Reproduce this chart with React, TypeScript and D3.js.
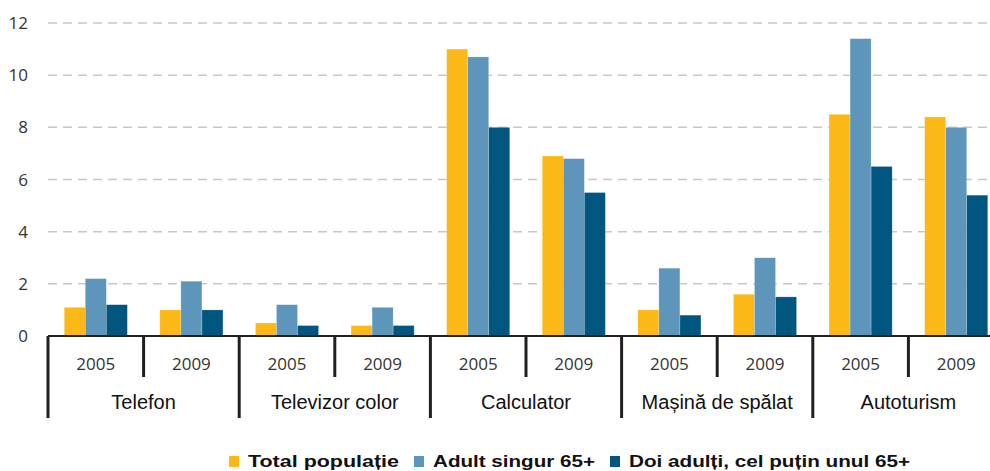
import React from "react";
import * as d3 from "d3";

const categories = ["Telefon", "Televizor color", "Calculator", "Mașină de spălat", "Autoturism"];
const years = ["2005", "2009"];
const seriesNames = ["Total populație", "Adult singur 65+", "Doi adulți, cel puțin unul 65+"];
// values per (category, year) in order: Telefon 2005, Telefon 2009, Televizor 2005, ...
const totalPopulatie = [1.1, 1.0, 0.5, 0.4, 11.0, 6.9, 1.0, 1.6, 8.5, 8.4];
const adultSingur = [2.2, 2.1, 1.2, 1.1, 10.7, 6.8, 2.6, 3.0, 11.4, 8.0];
const doiAdulti = [1.2, 1.0, 0.4, 0.4, 8.0, 5.5, 0.8, 1.5, 6.5, 5.4];
const yTicks = [0, 2, 4, 6, 8, 10, 12];

const colors = ["#FBB817", "#5E96BB", "#00567F"];

const W = 990;
const H = 471;
const left = 48;
const groupStep = 95.6;
const y0 = 336;
const yTop = 23;

export default function App() {
  const groups = categories.flatMap((c) => years.map((y) => `${c}|${y}`));
  const series = [totalPopulatie, adultSingur, doiAdulti];

  const x = d3
    .scaleBand<string>()
    .domain(groups)
    .range([left, left + groupStep * groups.length])
    .paddingInner(0.34)
    .paddingOuter(0.17);
  const xs = d3.scaleBand<number>().domain([0, 1, 2]).range([0, x.bandwidth()]);
  const y = d3.scaleLinear().domain([0, 12]).range([y0, yTop]);

  const step = x.step();
  const groupStart = (i: number) => left + i * step;

  const legendX = [229, 414, 610];
  const legendLen = [151, 162, 281];

  return (
    <svg
      width={W}
      height={H}
      style={{ position: "absolute", left: 0, top: 0, background: "#fff" }}
    >
      {/* gridlines */}
      {yTicks
        .filter((t) => t > 0)
        .map((t) => (
          <line
            key={"g" + t}
            x1={left}
            x2={W}
            y1={y(t)}
            y2={y(t)}
            stroke="#c8c8c8"
            strokeWidth={1.5}
            strokeDasharray="9,6"
          />
        ))}
      {/* y tick labels */}
      {yTicks.map((t) => (
        <text
          key={"t" + t}
          x={28}
          y={y(t)}
          dy="0.36em"
          textAnchor="end"
          fontFamily="'Open Sans', sans-serif"
          fontSize={17}
          fill="#333"
        >
          {t}
        </text>
      ))}
      {/* bars */}
      {groups.map((g, gi) =>
        series.map((s, si) => (
          <rect
            key={g + si}
            x={(x(g) as number) + (xs(si) as number)}
            y={y(s[gi])}
            width={xs.bandwidth()}
            height={y0 - y(s[gi])}
            fill={colors[si]}
            stroke="#ffffff"
            strokeOpacity={0.35}
            strokeWidth={0.6}
          />
        ))
      )}
      {/* axis line */}
      <line x1={left} x2={W} y1={y0} y2={y0} stroke="#231f20" strokeWidth={2} />
      {/* year separators */}
      {groups.map((g, gi) =>
        gi % 2 === 1 ? (
          <line
            key={"ys" + gi}
            x1={groupStart(gi)}
            x2={groupStart(gi)}
            y1={y0}
            y2={377}
            stroke="#231f20"
            strokeWidth={3}
          />
        ) : null
      )}
      {/* category separators */}
      {d3.range(categories.length + 1).map((ci) => (
        <line
          key={"cs" + ci}
          x1={groupStart(ci * 2)}
          x2={groupStart(ci * 2)}
          y1={y0}
          y2={418}
          stroke="#231f20"
          strokeWidth={3}
        />
      ))}
      {/* year labels */}
      {groups.map((g, gi) => (
        <text
          key={"yl" + gi}
          x={(x(g) as number) + x.bandwidth() / 2}
          y={370}
          textAnchor="middle"
          fontFamily="'Open Sans', sans-serif"
          fontSize={17}
          fill="#333"
        >
          {years[gi % 2]}
        </text>
      ))}
      {/* category labels */}
      {categories.map((c, ci) => (
        <text
          key={"cl" + ci}
          x={groupStart(ci * 2) + step}
          y={409}
          textAnchor="middle"
          fontFamily="'Liberation Sans', Arial, sans-serif"
          fontSize={20}
          fill="#111"
        >
          {c}
        </text>
      ))}
      {/* legend */}
      {seriesNames.map((n, i) => (
        <g key={"lg" + i} transform={`translate(${legendX[i]},0)`}>
          <rect x={0} y={456} width={10} height={11} fill={colors[i]} />
          <text
            x={19}
            y={467}
            fontFamily="'Liberation Sans', Arial, sans-serif"
            fontWeight="bold"
            fontSize={17}
            fill="#111"
            textLength={legendLen[i]}
            lengthAdjust="spacingAndGlyphs"
          >
            {n}
          </text>
        </g>
      ))}
    </svg>
  );
}
